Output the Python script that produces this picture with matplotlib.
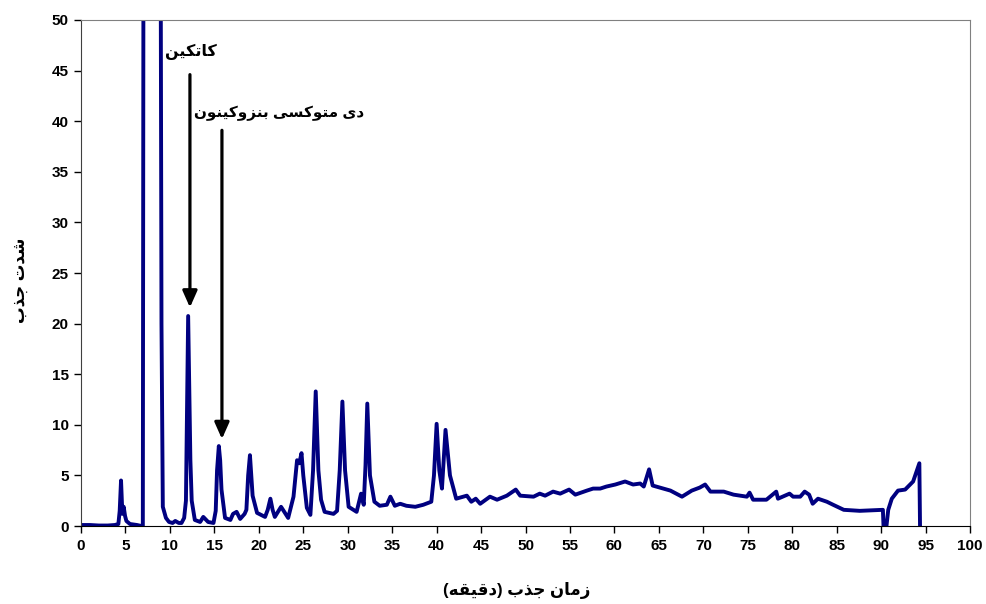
import matplotlib
matplotlib.use("Agg")
import matplotlib.pyplot as plt

# retention time (min) and detector response
times = [0, 1, 2, 3, 3.8, 4.2, 4.35, 4.5, 4.65, 4.8, 4.95, 5.1, 5.5, 6.3, 6.8,
         6.95, 7.05, 8.0, 8.9, 9.05, 9.2, 9.55, 9.9, 10.3, 10.6, 11.0, 11.3, 11.6,
         11.8, 12.05, 12.3, 12.45, 12.8, 13.4, 13.75, 14.3, 14.9, 15.15, 15.3, 15.5,
         15.65, 15.8, 16.2, 16.8, 17.1, 17.5, 17.9, 18.4, 18.6, 18.8, 19.0, 19.3,
         19.8, 20.7, 21.0, 21.3, 21.55, 21.8, 22.5, 23.3, 23.9, 24.3, 24.55, 24.8,
         25.0, 25.4, 25.8, 26.1, 26.4, 26.7, 27.0, 27.4, 28.4, 28.8, 29.1, 29.4,
         29.7, 30.1, 31.0, 31.5, 31.8, 32.0, 32.2, 32.5, 33.0, 33.6, 34.4, 34.8,
         35.3, 35.9, 36.6, 37.6, 38.5, 39.4, 39.7, 40.0, 40.3, 40.6, 41.0, 41.5,
         42.2, 43.4, 43.9, 44.4, 44.9, 46.0, 46.8, 47.9, 48.9, 49.4, 50.9, 51.6,
         52.2, 53.1, 53.9, 54.9, 55.6, 56.9, 57.6, 58.4, 59.1, 60.1, 61.2, 62.1,
         62.9, 63.3, 63.9, 64.3, 65.1, 66.3, 67.6, 68.7, 69.6, 70.2, 70.8, 72.3,
         73.4, 74.9, 75.2, 75.6, 77.1, 78.2, 78.4, 79.7, 80.1, 80.9, 81.4, 81.9,
         82.3, 82.9, 83.9, 84.6, 85.8, 87.6, 90.2, 90.35, 90.8, 91.2, 91.9, 92.7,
         93.6, 94.3, 94.4]
signal = [0.1, 0.1, 0.05, 0.05, 0.1, 0.2, 1.5, 4.5, 1.2, 1.9, 1.0, 0.5, 0.2, 0.1, 0.0,
          -1, 80, 150, 80, 20, 1.9, 0.8, 0.4, 0.3, 0.5, 0.3, 0.3, 0.8,
          2.5, 20.75, 6.5, 2.5, 0.6, 0.4, 0.9, 0.4, 0.3, 1.5, 5.5, 7.9,
          6.5, 3.6, 0.8, 0.6, 1.2, 1.4, 0.7, 1.2, 1.6, 5.0, 7.0, 3.0,
          1.3, 0.9, 1.6, 2.7, 1.6, 0.9, 1.9, 0.8, 2.9, 6.5, 6.2, 7.2,
          5.0, 1.8, 1.1, 5.5, 13.3, 5.5, 2.6, 1.4, 1.2, 1.5, 5.5, 12.3,
          5.5, 1.9, 1.4, 3.2, 2.1, 6, 12.1, 5, 2.4, 2.0, 2.1, 2.9,
          2.0, 2.2, 2.0, 1.9, 2.1, 2.4, 5.0, 10.1, 5.5, 3.7, 9.5, 5.0,
          2.7, 3.0, 2.4, 2.7, 2.2, 2.9, 2.6, 3.0, 3.6, 3.0, 2.9, 3.2,
          3.0, 3.4, 3.2, 3.6, 3.1, 3.5, 3.7, 3.7, 3.9, 4.1, 4.4, 4.1,
          4.2, 3.9, 5.6, 4.0, 3.8, 3.5, 2.9, 3.5, 3.8, 4.1, 3.4, 3.4,
          3.1, 2.9, 3.3, 2.6, 2.6, 3.4, 2.7, 3.2, 2.9, 2.9, 3.4, 3.1,
          2.2, 2.7, 2.4, 2.1, 1.6, 1.5, 1.6, -2, 1.6, 2.7, 3.5, 3.6,
          4.4, 6.2, -2]

xticks = list(range(0, 101, 5))
yticks = list(range(0, 51, 5))

label_catechin = "کاتکین"
label_dmbq = "دی متوکسی بنزوکینون"
xlabel_text = "زمان جذب (دقیقه)"
ylabel_text = "شدت جذب"

# minimal arabic/persian shaping: (isolated, final, initial, medial)
FORMS = {
    "ا": (0xFE8D, 0xFE8E, None, None), "د": (0xFEA9, 0xFEAA, None, None),
    "ذ": (0xFEAB, 0xFEAC, None, None), "ز": (0xFEAF, 0xFEB0, None, None),
    "و": (0xFEED, 0xFEEE, None, None),
    "ب": (0xFE8F, 0xFE90, 0xFE91, 0xFE92), "ت": (0xFE95, 0xFE96, 0xFE97, 0xFE98),
    "ج": (0xFE9D, 0xFE9E, 0xFE9F, 0xFEA0), "س": (0xFEB1, 0xFEB2, 0xFEB3, 0xFEB4),
    "ش": (0xFEB5, 0xFEB6, 0xFEB7, 0xFEB8), "ق": (0xFED5, 0xFED6, 0xFED7, 0xFED8),
    "م": (0xFEE1, 0xFEE2, 0xFEE3, 0xFEE4), "ن": (0xFEE5, 0xFEE6, 0xFEE7, 0xFEE8),
    "ه": (0xFEE9, 0xFEEA, 0xFEEB, 0xFEEC), "ی": (0xFBFC, 0xFBFD, 0xFBFE, 0xFBFF),
    "ک": (0xFB8E, 0xFB8F, 0xFB90, 0xFB91),
}


def shape(s):
    out = []
    for i, ch in enumerate(s):
        if ch not in FORMS:
            out.append(ch)
            continue
        prev = s[i - 1] if i > 0 else ""
        nxt = s[i + 1] if i + 1 < len(s) else ""
        jp = prev in FORMS and FORMS[prev][2] is not None
        jn = FORMS[ch][2] is not None and nxt in FORMS
        f = FORMS[ch]
        if jp and jn:
            out.append(chr(f[3]))
        elif jp:
            out.append(chr(f[1]))
        elif jn:
            out.append(chr(f[2]))
        else:
            out.append(chr(f[0]))
    vis = "".join(reversed(out))
    return vis.translate(str.maketrans("()", ")("))


fam = ["Liberation Sans", "DejaVu Sans"]
plt.rcParams["font.family"] = fam
plt.rcParams["font.weight"] = "bold"

fig = plt.figure(figsize=(9.87, 6.04), dpi=100)
ax = fig.add_axes([0.0821, 0.1291, 0.9007, 0.8378])
ax.plot(times, signal, color="#000080", linewidth=2.8, solid_joinstyle="round")
ax.set_xlim(0, 100)
ax.set_ylim(0, 50)
ax.set_xticks(xticks)
ax.set_yticks(yticks)
ax.tick_params(axis="both", direction="out", length=5, width=1, labelsize=11, pad=4)
for lab in ax.get_xticklabels() + ax.get_yticklabels():
    lab.set_fontweight("bold")
ax.spines["top"].set_color("#808080")
ax.spines["right"].set_color("#808080")
ax.spines["left"].set_color("#404040")
ax.spines["bottom"].set_color("black")

ax.set_xlabel(shape(xlabel_text), fontsize=12, fontweight="bold")
ax.set_ylabel(shape(ylabel_text), fontsize=12, fontweight="bold")
ax.xaxis.set_label_coords(0.490, -0.110)
ax.yaxis.set_label_coords(-0.060, 0.486)

arrow = dict(arrowstyle="-|>,head_length=0.9,head_width=0.4", color="black",
             linewidth=2.3, shrinkA=0, shrinkB=0, mutation_scale=11)
ax.annotate("", xy=(12.25, 21.6), xytext=(12.25, 44.6), arrowprops=arrow)
ax.annotate("", xy=(15.85, 8.6), xytext=(15.85, 39.1), arrowprops=arrow)
ax.text(12.4, 46.8, shape(label_catechin), fontsize=11.5, fontweight="bold",
        ha="center", va="center")
ax.text(22.3, 40.8, shape(label_dmbq), fontsize=11, fontweight="bold",
        ha="center", va="center")

fig.savefig("out.png", dpi=100)
